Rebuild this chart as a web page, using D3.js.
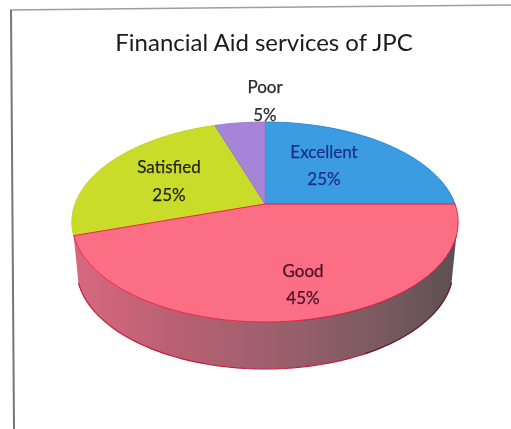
<!DOCTYPE html>
<html><head><meta charset="utf-8">
<script src="https://cdn.jsdelivr.net/npm/d3@7/dist/d3.min.js"></script>
<style>html,body{margin:0;padding:0;background:#fff;overflow:hidden}svg{display:block}</style>
</head><body><svg id="c" width="511" height="429"></svg>
<script>
const categories = ["Excellent","Good","Satisfied","Poor"];
const values = [25,45,25,5];
const percentLabels = ["25%","45%","25%","5%"];
const fills = ["#3a9ce2","#fb6e83","#c9dc2c","#a684d8"];
const edges = ["#2f86d0","#e9244a","#c2d420","#9a78cc"];
const textColors = ["#1c2f86","#4a1228","#1f220a","#2a2a2a"];
const labelAnchors = [[324,152,179],[303,271,298],[169,167,195],[265,87,115]];
const chartTitle = "Financial Aid services of JPC";

const svg = d3.select("#c");
const defs = svg.append("defs");
defs.append("filter").attr("id","soft").append("feGaussianBlur").attr("stdDeviation",0.55);
const tf = defs.append("filter").attr("id","softT");
tf.append("feGaussianBlur").attr("stdDeviation",0.45);
const grad = defs.append("linearGradient").attr("id","side").attr("gradientUnits","userSpaceOnUse")
  .attr("x1",72).attr("x2",458).attr("y1",0).attr("y2",0);
[[0,"#d8687e"],[0.25,"#bb6173"],[0.55,"#9a5f6b"],[0.8,"#7a5a61"],[1,"#5a5051"]]
  .forEach(([o,c])=>grad.append("stop").attr("offset",o).attr("stop-color",c));

// Perspective projection of the tilted disc
const cx=265, cy=204, R=190, S=96.76, k=-0.18, depth=47, lowerScale=0.975;
const project=(a,dy=0,sx=1)=>{
  const u=Math.sin(a), v=-Math.cos(a), w=1+k*v;
  return [cx+sx*R*u/w, cy+S*v/w+dy];
};
const pathLine=d3.line();
const arcPts=(a0,a1,dy=0,sx=1)=>d3.range(0,61).map(i=>project(a0+(a1-a0)*i/60,dy,sx));

const arcs=d3.pie().sort(null).value(d=>d)(values);

// frame of the scanned page
const frameG=svg.append("g").attr("filter","url(#soft)").attr("fill","none");
frameG.append("path").attr("d",pathLine([[10,10],[200,8],[511,5]])).attr("stroke","#a89a9c").attr("stroke-width",1.6);
frameG.append("path").attr("d",pathLine([[11,10],[14,429]])).attr("stroke","#77757a").attr("stroke-width",2);

const pieG=svg.append("g").attr("filter","url(#soft)");
// side wall: front of the rim, from the right edge to the left edge
const sideA0=Math.PI*0.6, sideA1=Math.PI*1.4;
const rimTop=arcPts(sideA0,sideA1), rimBottom=arcPts(sideA0,sideA1,depth,lowerScale).reverse();
pieG.append("path").attr("d",pathLine(rimTop.concat(rimBottom))+"Z")
  .attr("fill","url(#side)").attr("stroke","none");
pieG.append("path").attr("d",pathLine(arcPts(sideA0,sideA1,depth,lowerScale)))
  .attr("fill","none").attr("stroke","#c8183e").attr("stroke-width",1.2);
pieG.append("path").attr("d",pathLine(arcPts(sideA0,Math.PI*0.85,depth,lowerScale)))
  .attr("fill","none").attr("stroke","#4c2a32").attr("stroke-width",1.1);
pieG.append("path").attr("d",pathLine(arcPts(sideA0,Math.PI*0.95)))
  .attr("fill","none").attr("stroke","#50474a").attr("stroke-width",1.3);

// top face slices; the Good slice goes last so its red edge stays on top
const order=[0,2,3,1];
pieG.selectAll("path.slice").data(order.map(i=>({arc:arcs[i],i}))).join("path").attr("class","slice")
  .attr("d",d=>pathLine([[cx,cy]].concat(arcPts(d.arc.startAngle,d.arc.endAngle)))+"Z")
  .attr("fill",d=>fills[d.i])
  .attr("stroke",d=>edges[d.i]).attr("stroke-width",1).attr("stroke-linejoin","round");

// labels
const textG=svg.append("g").attr("font-family","Lato, 'Open Sans', sans-serif")
  .attr("text-anchor","middle").attr("filter","url(#softT)");
textG.append("text").attr("x",264).attr("y",51).attr("font-size",24).attr("fill","#1a1a1a").text(chartTitle);
categories.forEach((c,i)=>{
  const [x,y1,y2]=labelAnchors[i];
  [[y1,c],[y2,percentLabels[i]]].forEach(([y,t])=>{
    textG.append("text").attr("x",x).attr("y",y+6).attr("font-size",17)
      .attr("fill",textColors[i]).attr("stroke",textColors[i]).attr("stroke-width",0.25).text(t);
  });
});
</script></body></html>
